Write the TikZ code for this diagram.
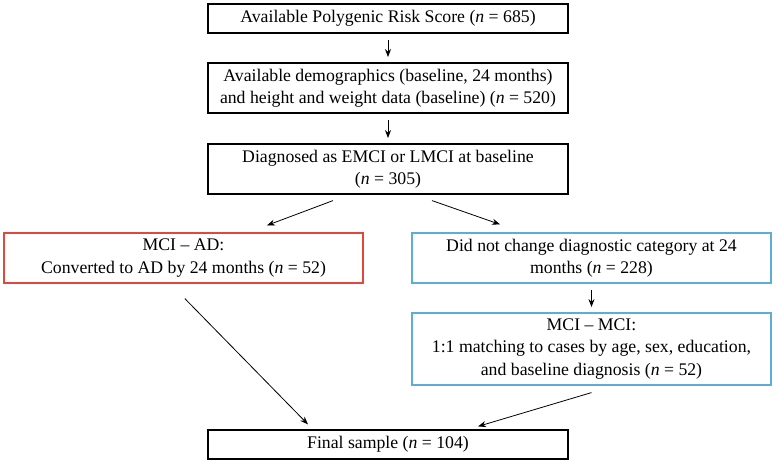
\documentclass[tikz,border=0pt]{standalone}
\usepackage{fontspec}
\setmainfont{Liberation Serif}
\usepackage{tikz}
\usetikzlibrary{arrows.meta,positioning}
\definecolor{adred}{RGB}{224,72,62}
\definecolor{mciblue}{RGB}{92,174,216}

\begin{document}
\begin{tikzpicture}[x=0.75pt, y=-0.75pt,
			flowbox/.style={rectangle, draw=black, line width=0.9pt, minimum width=270pt, inner sep=0pt, align=center, font=\fontsize{13.3}{16.6}\selectfont},
			adbox/.style={flowbox, draw=adred, minimum width=269.25pt},
			mcibox/.style={flowbox, draw=mciblue, minimum width=269.25pt},
			arrow/.style={line width=0.6pt, -{Stealth[length=6pt,width=4.5pt]}, shorten <=5pt, shorten >=4pt}
		]
		\useasboundingbox (0,0) rectangle (776,464);
		\node (prs)      [flowbox, minimum height=21.75pt] at (388,18.5) {Available Polygenic Risk Score (\textit{n} = 685)};
		\node (demo)     [flowbox, minimum height=37.5pt] at (388,88) {Available demographics (baseline, 24 months)\\ and height and weight data (baseline) (\textit{n} = 520)};
		\node (diag)     [flowbox, minimum height=37.5pt] at (388,169) {Diagnosed as EMCI or LMCI at baseline\\ (\textit{n} = 305)};
		\node (mciad)    [adbox, minimum height=37.5pt] at (183.5,258) {MCI -- AD:\\ Converted to AD by 24 months (\textit{n} = 52)};
		\node (nochange) [mcibox, minimum height=37.5pt] at (591.5,258) {Did not change diagnostic category at 24\\ months (\textit{n} = 228)};
		\node (mcimci)   [mcibox, minimum height=54pt] at (591.5,349) {MCI -- MCI:\\ 1:1 matching to cases by age, sex, education,\\ and baseline diagnosis (\textit{n} = 52)};
		\node (final)    [flowbox, minimum height=21.75pt] at (388,444.5) {Final sample (\textit{n} = 104)};

		\draw [arrow] (prs) -- (demo);
		\draw [arrow] (demo) -- (diag);
		\draw [arrow] (nochange) -- (mcimci);
		\draw [arrow, shorten <=0pt, shorten >=0pt] ([xshift=-41.25pt, yshift=-4.5pt]diag.south) -- ([xshift=62.6pt, yshift=5.25pt]mciad.north);
		\draw [arrow, shorten <=0pt, shorten >=0pt] ([xshift=33pt, yshift=-4.5pt]diag.south) -- ([xshift=-68.6pt, yshift=6pt]nochange.north);
		\draw [arrow, shorten <=0pt, shorten >=0pt] ([xshift=1pt, yshift=-11.25pt]mciad.south) -- ([xshift=-60pt, yshift=3.75pt]final.north);
		\draw [arrow, shorten <=0pt, shorten >=0pt] ([yshift=-5.25pt]mcimci.south) -- ([xshift=67.5pt, yshift=2.25pt]final.north);

	\end{tikzpicture}
\end{document}
